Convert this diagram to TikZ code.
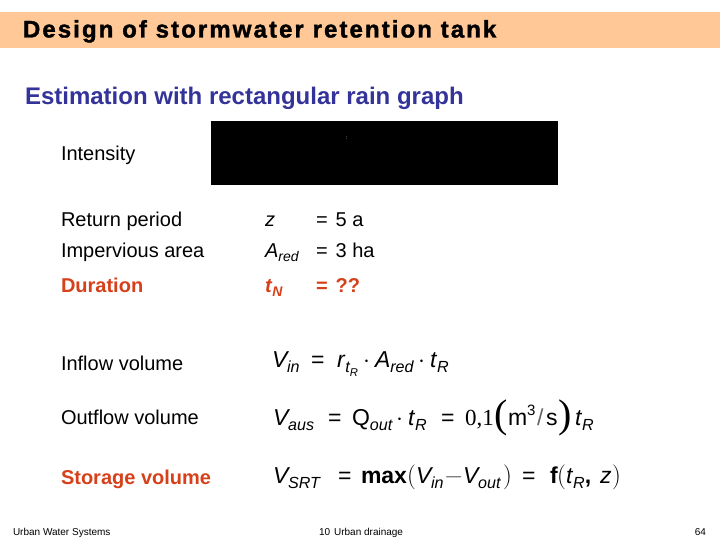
\documentclass[tikz,border=0pt]{standalone}
\usepackage{fontspec}
\setmainfont{Liberation Sans}
\definecolor{titlebar}{RGB}{255,200,150}
\definecolor{headblue}{RGB}{51,51,153}
\definecolor{durred}{RGB}{214,64,26}
\newcommand{\ital}[1]{\textit{#1}}
\newcommand{\low}[1]{\raisebox{-.24em}{\fontsize{\the\dimexpr.7\fontdimen6\font}{1pt}\selectfont\itshape #1}}
\tikzset{
  every node/.style={inner sep=0pt, outer sep=0pt, anchor=base west},
  label text/.style={font=\fontsize{20}{22}\selectfont},
  label red/.style={font=\fontsize{20}{22}\selectfont\bfseries, text=durred},
  formula/.style={font=\fontsize{23}{25}\selectfont},
  big paren/.style={font=\fontsize{28}{28}\selectfont},
  huge paren/.style={font=\fontspec{Liberation Serif}\fontsize{40}{40}\selectfont},
  foot/.style={font=\fontsize{10}{12}\selectfont},
}
\begin{document}
\begin{tikzpicture}[x=1pt, y=-1pt]
  \useasboundingbox (0,0) rectangle (720,540);
  \fill[titlebar] (0,12) rectangle (720,48);
  \fill[black] (211,121) rectangle (558,185);

  \node (title) at (23,37.5) {\fontsize{24}{26}\selectfont\bfseries\addfontfeature{LetterSpace=8.7,FakeBold=1.5}Design of stormwater retention tank};
  \node[text=headblue] (head) at (25,105) {\fontsize{24}{26}\selectfont\bfseries Estimation with rectangular rain graph};
  \node[text=white, font=\fontsize{5}{5}\selectfont] (dots) at (346,140) {:};

  \node[label text] (intensity) at (61,161) {Intensity};
  \node[label text] (period) at (61,226) {Return period};
  \node[label text] (area) at (61,257) {Impervious area};
  \node[label red] (duration) at (61,292) {Duration};
  \node[label text] (inflow) at (61,370) {Inflow volume};
  \node[label text] (outflow) at (61,424) {Outflow volume};
  \node[label red] (storage) at (61,484) {Storage volume};

  \node[label text] (z) at (265,226) {\ital{z}};
  \node[label text] (zval) at (316,226) {=\hspace{8pt}5 a};
  \node[label text] (ared) at (265,257) {\ital{A}\low{red}};
  \node[label text] (aval) at (316,257) {=\hspace{8pt}3 ha};
  \node[label red] (tn) at (265,292) {\ital{t}\low{N}};
  \node[label red] (tval) at (316,292) {=\hspace{8pt}??};

  % inflow
  \node[formula] (vin) at (272,367) {\ital{V}\hspace{-2pt}\low{in}};
  \node[formula] (vineq) at (311,367) {=};
  \node[formula] (vinr) at (337,367) {\ital{r}\low{t\low{R}}};
  \node[formula] (vindota) at (363,367) {$\cdot$};
  \node[formula] (vina) at (375,367) {\ital{A}\low{red}};
  \node[formula] (vindotb) at (418,367) {$\cdot$};
  \node[formula] (vint) at (430,367) {\ital{t}\low{R}};

  % outflow
  \node[formula] (vaus) at (273,425) {\ital{V}\hspace{-2pt}\low{aus}};
  \node[formula] (vauseq) at (328,425) {=};
  \node[formula] (qout) at (352,425) {Q\low{out}};
  \node[formula] (vausdot) at (396,425) {$\cdot$};
  \node[formula] (vaust) at (408,425) {\ital{t}\low{R}};
  \node[formula] (vauseqb) at (441,425) {=};
  \node[formula] (vausval) at (465,425) {\fontspec{Liberation Serif}0,1};
  \node[huge paren] (parl) at (494.5,427) {(};
  \node[formula] (units) at (508,425) {m\raisebox{.42em}{\fontsize{15}{15}\selectfont 3}};
  \node[formula, text=black!60] (slash) at (537,425) {/};
  \node[formula] (unitb) at (546,425) {s};
  \node[huge paren] (parr) at (558,427) {)};
  \node[formula] (vaustb) at (575,425) {\ital{t}\low{R}};

  % storage
  \node[formula] (vsrt) at (273,483) {\ital{V}\hspace{-2pt}\low{SRT}};
  \node[formula] (vsrteq) at (338,483) {=};
  \node[formula] (maxv) at (361,483) {\textbf{max}};
  \node[big paren] (vopen) at (407,483) {$($};
  \node[formula] (vsin) at (416,483) {\ital{V}\hspace{-2pt}\low{in}};
  \node[formula, text=black!70] (vminus) at (444,483) {$-$};
  \node[formula] (vsout) at (463,483) {\ital{V}\hspace{-2pt}\low{out}};
  \node[big paren] (vclose) at (503,483) {$)$};
  \node[formula] (vsrteqb) at (522,483) {=};
  \node[formula] (ffun) at (550,483) {\textbf{f}};
  \node[big paren] (fopen) at (557,483) {$($};
  \node[formula] (ft) at (566,483) {\ital{t}\low{R}\textbf{,}};
  \node[formula] (fz) at (600,483) {\ital{z}};
  \node[big paren] (fclose) at (612,483) {$)$};

  \node[foot] (footl) at (13,535) {Urban Water Systems};
  \node[foot] (footm) at (319,535) {10\hspace{4pt}Urban drainage};
  \node[foot, anchor=base east] (footr) at (706,535) {64};
\end{tikzpicture}
\end{document}
